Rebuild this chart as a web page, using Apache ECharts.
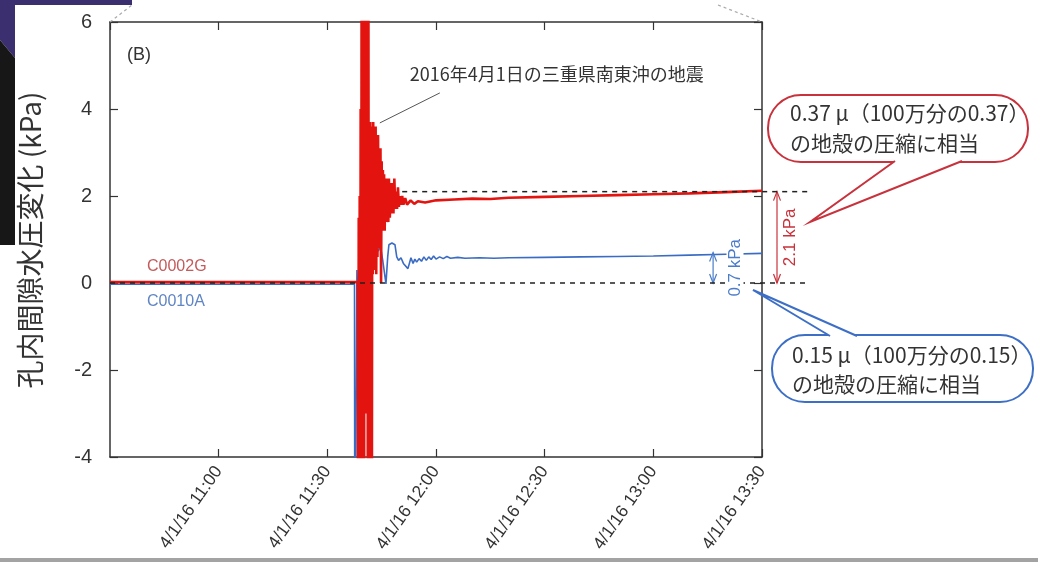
<!DOCTYPE html>
<html><head><meta charset="utf-8">
<script src="https://cdn.jsdelivr.net/npm/echarts@6/dist/echarts.min.js"></script>
<style>html,body{margin:0;padding:0;background:#fff}#c{width:1038px;height:562px}</style>
</head><body><div id="c"></div>
<script>
// ---- data ----
const datePrefix = '4/1/16';
const xTickTimes = ['11:00', '11:30', '12:00', '12:30', '13:00', '13:30'];
const yTicks = [-4, -2, 0, 2, 4, 6];

const c0002gTime = ['10:30:00','11:00:00','11:30:00','11:38:24','11:38:32','11:38:40','11:38:48','11:38:56','11:39:04','11:39:12','11:39:20','11:39:28','11:39:36','11:39:44','11:39:52','11:40:00','11:40:08','11:40:16','11:40:24','11:40:32','11:40:40','11:40:48','11:40:56','11:41:04','11:41:12','11:41:20','11:41:28','11:41:36','11:41:44','11:41:52','11:42:00','11:42:08','11:42:16','11:42:24','11:42:32','11:42:40','11:42:50','11:43:00','11:43:10','11:43:20','11:43:30','11:43:40','11:43:50','11:44:00','11:44:10','11:44:20','11:44:30','11:44:40','11:44:50','11:45:00','11:45:10','11:45:20','11:45:30','11:45:40','11:45:50','11:46:00','11:46:10','11:46:20','11:46:30','11:46:40','11:46:50','11:47:00','11:47:15','11:47:30','11:47:45','11:48:00','11:48:15','11:48:30','11:48:45','11:49:00','11:49:15','11:49:30','11:49:45','11:50:00','11:50:20','11:50:40','11:51:00','11:51:30','11:52:00','11:53:00','11:54:00','11:55:00','11:57:00','12:00:00','12:05:00','12:10:00','12:15:00','12:20:00','12:30:00','12:40:00','12:50:00','13:00:00','13:10:00','13:20:00','13:30:00'];
const c0002gValue = [0.02,0.02,0.02,0.02,-8,1.5,-8,2,-8,4,-8,8,-8,8,-8,8,-7,8,-3,8,-2.5,8,-3,8,-8,8,-8,3.7,-8,3.7,-8,3.6,-8,3.6,0.2,3.7,0.3,3.5,0.4,3.6,0.2,3.3,0.6,3.4,0.8,3.0,1.0,3.1,0.0,2.8,1.2,2.6,1.3,2.5,1.2,2.3,1.4,2.4,1.5,2.1,1.4,2.4,1.5,2.3,1.6,2.3,1.6,2.4,1.7,2.1,1.7,2.2,1.75,2.0,1.8,2.0,1.8,1.95,1.8,1.9,1.82,1.88,1.85,1.9,1.92,1.94,1.93,1.96,1.98,2.0,2.02,2.04,2.06,2.09,2.12];

const c0010aTime = ['10:30:00','11:37:30','11:37:36','11:37:46','11:38:10','11:38:40','11:39:20','11:40:00','11:40:40','11:41:20','11:42:00','11:42:40','11:43:20','11:44:10','11:44:40','11:45:20','11:46:11','11:46:40','11:47:00','11:47:50','11:48:40','11:49:10','11:49:40','11:50:20','11:51:00','11:52:15','11:53:05','11:53:40','11:54:10','11:54:40','11:55:20','11:56:00','11:56:40','11:57:20','11:58:00','11:58:40','11:59:20','12:00:00','12:01:00','12:02:00','12:03:00','12:04:00','12:06:00','12:08:00','12:12:00','12:16:00','12:20:00','12:30:00','12:40:00','12:50:00','13:00:00','13:10:00','13:20:00','13:30:00'];
const c0010aValue = [-0.03,-0.03,-8,-8,0.3,-1,1.2,-0.5,1.0,0.0,0.9,0.3,0.7,0.75,0.85,0.5,-0.02,0.6,0.88,0.92,0.88,0.6,0.52,0.58,0.45,0.33,0.58,0.45,0.55,0.48,0.56,0.5,0.6,0.52,0.6,0.54,0.62,0.55,0.6,0.56,0.61,0.57,0.59,0.57,0.58,0.57,0.58,0.59,0.6,0.61,0.62,0.64,0.66,0.68];

const steps = { c0002g: 2.1, c0010a: 0.7 };
const arrowTime = '13:16:30';
const annotTime = '11:44:30', annotValue = 3.68;

// ---- helpers ----
const toMin = s => { const p = s.split(':'); return (+p[0]) * 60 + (+p[1]) + (+(p[2] || 0)) / 60; };
const pad = n => (n < 10 ? '0' : '') + n;
const pairs = (t, v) => t.map((s, i) => [toMin(s), v[i]]);
const xMin = toMin('10:30'), xMax = toMin(xTickTimes[xTickTimes.length - 1]);

const latin = 'Liberation Sans, Arial, sans-serif';
const cjk = '"Noto Sans CJK JP", sans-serif';
const axisCol = '#333';

const chart = echarts.init(document.getElementById('c'));
const xCommon = {
  type: 'value', min: xMin, max: xMax, interval: 30,
  axisLine: { onZero: false, lineStyle: { color: axisCol, width: 1.5 } },
  axisTick: { inside: true, length: 8, lineStyle: { color: axisCol, width: 1.2 } },
  splitLine: { show: false }
};
const yCommon = {
  type: 'value', min: yTicks[0], max: yTicks[yTicks.length - 1], interval: 2,
  axisLine: { show: true, onZero: false, lineStyle: { color: axisCol, width: 1.5 } },
  axisTick: { show: true, inside: true, length: 8, lineStyle: { color: axisCol, width: 1.2 } },
  splitLine: { show: false }
};
chart.setOption({
  animation: false,
  backgroundColor: '#fff',
  grid: { left: 110, right: 276, top: 22, bottom: 105, containLabel: false, outerBoundsMode: 'none' },
  xAxis: [
    Object.assign({}, xCommon, {
      position: 'bottom',
      axisLabel: {
        rotate: 55, fontSize: 17.5, color: '#333', margin: 11, fontFamily: latin,
        showMinLabel: false,
        formatter: v => {
          const h = Math.floor(v / 60), m = Math.round(v - h * 60);
          const hm = h + ':' + pad(m);
          return xTickTimes.includes(hm) ? datePrefix + ' ' + hm : '';
        }
      }
    }),
    Object.assign({}, xCommon, { position: 'top', axisLabel: { show: false } })
  ],
  yAxis: [
    Object.assign({}, yCommon, {
      position: 'left',
      axisLabel: { fontSize: 20, color: '#333', margin: 18, fontFamily: latin,
        formatter: v => yTicks.includes(v) ? String(v) : '' }
    }),
    Object.assign({}, yCommon, { position: 'right', axisLabel: { show: false } })
  ],
  series: [
    { name: 'C0010A', type: 'line', data: pairs(c0010aTime, c0010aValue), showSymbol: false, symbol: 'none',
      clip: true, lineStyle: { color: '#3b6cc4', width: 1.6 }, z: 2 },
    { name: 'C0002G', type: 'line', data: pairs(c0002gTime, c0002gValue), showSymbol: false, symbol: 'none',
      clip: true, lineStyle: { color: '#e3140f', width: 2.6 }, z: 3 }
  ]
});

// ---- annotations positioned through the axes ----
const P = (x, y) => chart.convertToPixel({ xAxisIndex: 0, yAxisIndex: 0 }, [x, y]);
const gx0 = P(xMin, 0)[0], gx1 = P(xMax, 0)[0];
const y0 = P(xMin, 0)[1];
const yRed = P(xMin, steps.c0002g)[1];
const yBlue = P(xMin, steps.c0010a)[1];
const yTop = P(xMin, yTicks[yTicks.length - 1])[1];
const dashStart = P(toMin('11:50:40'), 0)[0];
const ax = P(toMin(arrowTime), 0)[0];
const tip = P(toMin(annotTime), annotValue);

function vArrow(x, ya, yb, color) {
  const s = { stroke: color, lineWidth: 1.2, fill: null };
  return [
    { type: 'line', shape: { x1: x, y1: ya, x2: x, y2: yb }, style: s, z: 20 },
    { type: 'polyline', shape: { points: [[x - 3.5, ya + 9], [x, ya], [x + 3.5, ya + 9]] }, style: s, z: 20 },
    { type: 'polyline', shape: { points: [[x - 3.5, yb - 9], [x, yb], [x + 3.5, yb - 9]] }, style: s, z: 20 }
  ];
}
function txt(x, y, text, font, fill, align, rot, extra) {
  return { type: 'text', x: x, y: y, rotation: rot || 0, z: 30,
    style: Object.assign({ text: text, font: font, fill: fill, align: align || 'left', verticalAlign: 'middle',
      textAlign: align || 'left', textVerticalAlign: 'middle' }, extra || {}) };
}
function bubble(rect, base1, base2, tipPt, color, lines) {
  const els = [
    { type: 'rect', shape: Object.assign({}, rect), style: { fill: '#fff', stroke: color, lineWidth: 2 }, z: 40 },
    { type: 'polygon', shape: { points: [base1, base2, tipPt] }, style: { fill: '#fff' }, z: 41 },
    { type: 'polyline', shape: { points: [base1, tipPt, base2] }, style: { stroke: color, lineWidth: 2, fill: null }, z: 42 }
  ];
  lines.forEach(l => els.push(Object.assign(txt(l[0], l[1], l[2], '21px ' + cjk, '#333'), { z: 43 })));
  return els;
}

const rb = { x: 768, y: 95, width: 260, height: 67, r: 33 };
const bb = { x: 772, y: 335, width: 261, height: 67, r: 33 };

const graphics = [
  // backdrop of the slide
  { type: 'polygon', shape: { points: [[0, 0], [132, 0], [132, 5], [15, 5], [15, 58], [0, 40]] }, style: { fill: '#3c2f70' }, z: 0 },
  { type: 'polygon', shape: { points: [[0, 40], [15, 58], [15, 245], [0, 245]] }, style: { fill: '#171717' }, z: 0 },
  { type: 'rect', shape: { x: 0, y: 558, width: 1038, height: 4 }, style: { fill: '#a3a3a3' }, z: 0 },
  { type: 'line', shape: { x1: gx0, y1: yTop, x2: 132, y2: 5 }, style: { stroke: '#aaa', lineWidth: 1.2, lineDash: [3, 3] }, z: 1 },
  { type: 'line', shape: { x1: 718, y1: 5, x2: gx1, y2: yTop }, style: { stroke: '#aaa', lineWidth: 1.2, lineDash: [3, 3] }, z: 1 },
  // y axis title
  txt(30, 240, '孔内間隙水圧変化 (kPa)', '28px ' + cjk, '#333', 'center', Math.PI / 2),
  // panel label and series labels
  txt(127, 55, '(B)', '18px ' + latin, '#333'),
  txt(147, 267, 'C0002G', '16px ' + latin, '#c45a5a'),
  txt(147, 302, 'C0010A', '16px ' + latin, '#5f85c4'),
  // earthquake annotation
  { type: 'line', shape: { x1: tip[0], y1: tip[1], x2: tip[0] + 60, y2: tip[1] - 30 }, style: { stroke: '#555', lineWidth: 1 }, z: 30 },
  txt(tip[0] + 30, tip[1] - 49, '2016年4月1日の三重県南東沖の地震', '18px ' + cjk, '#333'),
  // dashed reference lines
  { type: 'line', shape: { x1: gx0, y1: y0, x2: gx1 + 46, y2: y0 }, style: { stroke: '#222', lineWidth: 1.5, lineDash: [5, 5] }, z: 25 },
  { type: 'line', shape: { x1: dashStart, y1: yRed, x2: gx1 + 46, y2: yRed }, style: { stroke: '#222', lineWidth: 1.5, lineDash: [5, 5] }, z: 25 },
  // step labels
  txt(gx1 - 27, (y0 + yBlue) / 2, '0.7 kPa', '17px ' + latin, '#4a7cc9', 'center', Math.PI / 2, { backgroundColor: '#fff', padding: [0, 2] }),
  txt(gx1 + 28, (y0 + yRed) / 2, '2.1 kPa', '17px ' + latin, '#c8323c', 'center', Math.PI / 2)
]
  .concat(vArrow(ax, yBlue, y0, '#4a7cc9'))
  .concat(vArrow(gx1 + 15, yRed, y0, '#c8323c'))
  .concat(bubble(rb, [895, rb.y + rb.height - 1], [962, rb.y + rb.height - 1], [810, 222], '#c8323c',
    [[790, 113, '0.37 μ（100万分の0.37）'], [790, 143, 'の地殻の圧縮に相当']]))
  .concat(bubble(bb, [830, bb.y + 1], [857, bb.y + 1], [753, 290], '#3d6fc6',
    [[792, 355, '0.15 μ（100万分の0.15）'], [792, 384, 'の地殻の圧縮に相当']]));

chart.setOption({ graphic: graphics });
</script>
</body></html>
